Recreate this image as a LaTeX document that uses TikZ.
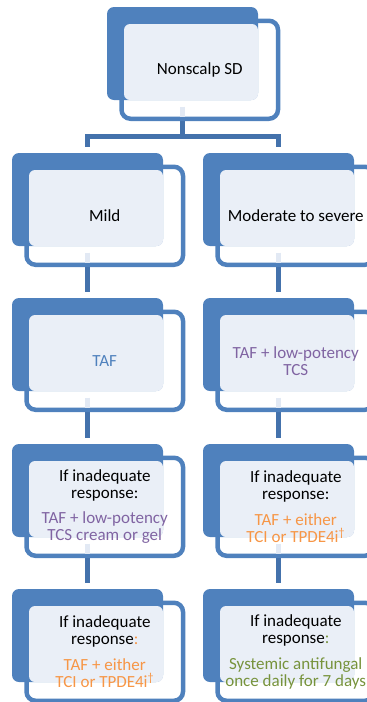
\documentclass[tikz,border=0pt]{standalone}
\usepackage{fontspec}
\setmainfont{Carlito}
\usetikzlibrary{calc}
\pgfdeclarelayer{background}
\pgfsetlayers{background,main}
\definecolor{boxblue}{HTML}{4F81BD}
\definecolor{linkblue}{HTML}{4472AC}
\definecolor{lightfill}{HTML}{EAEFF7}
\definecolor{palelink}{HTML}{E2E9F4}
\definecolor{tafblue}{HTML}{4F81BD}
\definecolor{purp}{HTML}{8064A2}
\definecolor{orng}{HTML}{F79646}
\definecolor{grn}{HTML}{77933C}
\tikzset{
  backbox/.style={rectangle, rounded corners=7pt, fill=boxblue, minimum width=151pt, minimum height=93pt, inner sep=0pt},
  framebox/.style={rectangle, rounded corners=9pt, draw=boxblue, line width=4.5pt, fill=white, minimum width=156.5pt, minimum height=98pt, inner sep=0pt},
  facebox/.style={rectangle, rounded corners=6pt, fill=lightfill, minimum width=134pt, minimum height=76pt, inner sep=0pt},
  boxtext/.style={align=center, font=\fontsize{17}{17}\selectfont, inner sep=0pt, text=black},
  link/.style={draw=linkblue, line width=4.5pt, line join=miter},
  palestub/.style={draw=palelink, line width=4.5pt},
}
\newcommand\flowbox[4]{%
  \node[framebox] (#1f) at (#2+17.25, #3+16.25) {};
  \node[backbox] (#1) at (#2, #3) {};
  \node[facebox] (#1l) at (#2+8.5, #3+8.5) {};
  \node[boxtext] (#1t) at (#1f.center) {#4};
}
\newcommand\palepart[1]{%
  \draw[palestub] ([yshift=-6.5pt]#1.south) -- ($(#1.south |- #1f.south)+(0,-4.5)$);
}
\begin{document}
\begin{tikzpicture}[x=1pt,y=-1pt]
\useasboundingbox (0,0) rectangle (367,702);
\flowbox{top}{182.5}{53.5}{Nonscalp SD}
\flowbox{ma}{87.5}{199.5}{Mild}
\flowbox{sa}{278.5}{199.5}{Moderate to severe}
\flowbox{mb}{87.5}{344.5}{\textcolor{tafblue}{TAF}}
\flowbox{sb}{278.5}{344.5}{\textcolor{purp}{TAF + low-potency}\\\textcolor{purp}{TCS}}
\flowbox{mc}{87.5}{490.5}{If inadequate\\response:\\[8.5pt]\textcolor{purp}{TAF + low-potency}\\\textcolor{purp}{TCS cream or gel}}
\flowbox{sc}{278.5}{490.5}{If inadequate\\response:\\[8.5pt]\textcolor{orng}{TAF + either}\\\textcolor{orng}{TCI or TPDE4i\textsuperscript{†}}}
\flowbox{md}{87.5}{635.5}{If inadequate\\response\textcolor{orng}{:}\\[8.5pt]\textcolor{orng}{TAF + either}\\\textcolor{orng}{TCI or TPDE4i\textsuperscript{†}}}
\flowbox{sd}{278.5}{635.5}{If inadequate\\response\textcolor{grn}{:}\\[8.5pt]\textcolor{grn}{Systemic antifungal}\\\textcolor{grn}{once daily for 7 days}}
\coordinate (split) at (182.5,136.5);
% pale parts of the links, seen through the white frames
\palepart{top}
\palepart{ma}
\palepart{mb}
\palepart{mc}
\palepart{sa}
\palepart{sb}
\palepart{sc}
\begin{pgfonlayer}{background}
  \draw[link] ([yshift=-7pt]top.south) -- (split);
  \draw[link] ([yshift=6pt]ma.north) |- (split) -| ([yshift=6pt]sa.north);
  \draw[link] ([yshift=-6pt]ma.south) -- ([yshift=5.5pt]mb.north);
  \draw[link] ([yshift=-6pt]mb.south) -- ([yshift=5.5pt]mc.north);
  \draw[link] ([yshift=-6pt]mc.south) -- ([yshift=5.5pt]md.north);
  \draw[link] ([yshift=-6pt]sa.south) -- ([yshift=5.5pt]sb.north);
  \draw[link] ([yshift=-6pt]sb.south) -- ([yshift=5.5pt]sc.north);
  \draw[link] ([yshift=-6pt]sc.south) -- ([yshift=5.5pt]sd.north);
\end{pgfonlayer}
\end{tikzpicture}
\end{document}
